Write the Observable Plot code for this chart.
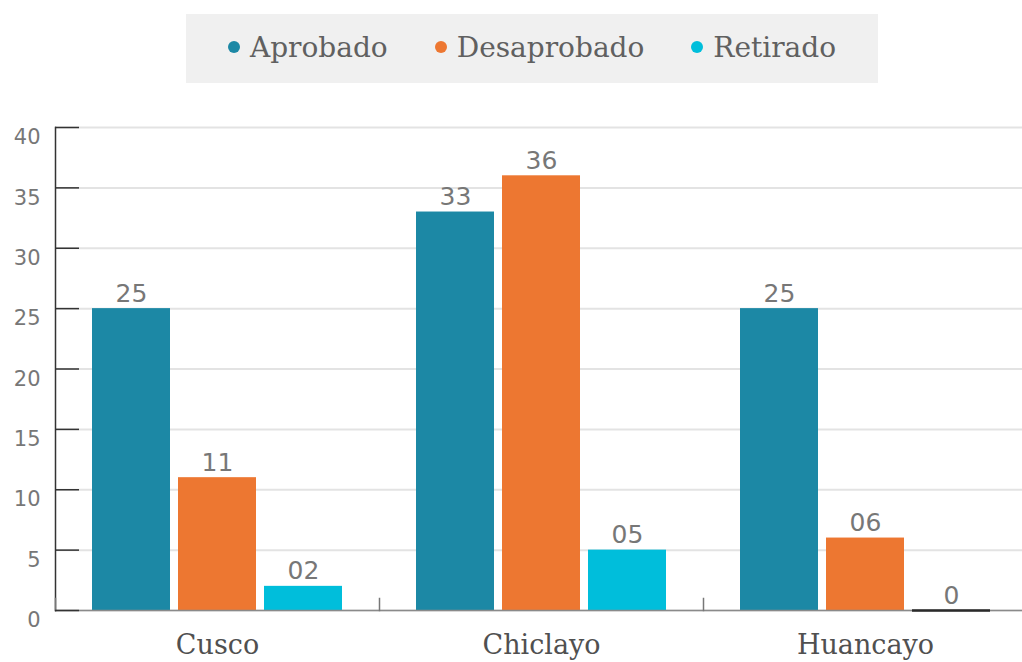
<!DOCTYPE html>
<html>
<head>
<meta charset="utf-8">
<script src="https://cdn.jsdelivr.net/npm/d3@7"></script>
<script src="https://cdn.jsdelivr.net/npm/@observablehq/plot@0.6"></script>
<style>
  html, body { margin: 0; background: #fff; overflow: hidden; }
  #legend {
    margin: 14px 0 0 186px; width: 692px; height: 69px; background: #f0f0f0;
    box-sizing: border-box; padding-bottom: 3px;
    display: flex; align-items: center; justify-content: center; gap: 47px;
    font-family: "DejaVu Serif", serif; font-size: 28px; color: #606060;
  }
  #legend .item { display: flex; align-items: center; gap: 10px; }
  #legend .dot { width: 12px; height: 12px; border-radius: 50%; display: inline-block; }
  #chart { margin-top: 12px; width: 1027px; }
  #chart svg { display: block; }
  #chart svg g[aria-label="y-axis tick label"],
  #chart svg g[aria-label="y-axis tick label"] text {
    font-size: 21px !important; fill: #777 !important; font-family: "DejaVu Sans", sans-serif !important;
  }
  #chart svg g[aria-label="fx-axis tick label"],
  #chart svg g[aria-label="fx-axis tick label"] text {
    font-size: 27px !important; fill: #505050 !important; font-family: "DejaVu Serif", serif !important;
  }
</style>
</head>
<body>
<div id="legend"></div>
<div id="chart"></div>
<script>
const categories = ["Cusco", "Chiclayo", "Huancayo"];
const series = ["Aprobado", "Desaprobado", "Retirado"];
const aprobado = [25, 33, 25];
const desaprobado = [11, 36, 6];
const retirado = [2, 5, 0];
const colors = ["#1c88a5", "#ed7731", "#00bedb"];
const yTicks = [0, 5, 10, 15, 20, 25, 30, 35, 40];

const valuesBySeries = [aprobado, desaprobado, retirado];
const data = [];
categories.forEach((c, i) => {
  series.forEach((s, j) => {
    data.push({ category: c, series: s, value: valuesBySeries[j][i] });
  });
});
const fmt = v => v === 0 ? "0" : String(v).padStart(2, "0");

// legend
const legend = document.getElementById("legend");
series.forEach((s, j) => {
  const item = document.createElement("span");
  item.className = "item";
  const dot = document.createElement("span");
  dot.className = "dot";
  dot.style.background = colors[j];
  const t = document.createElement("span");
  t.textContent = s;
  item.appendChild(dot);
  item.appendChild(t);
  legend.appendChild(item);
});

const plot = Plot.plot({
  width: 1027,
  height: 567,
  marginLeft: 55,
  marginRight: 0,
  marginTop: 32,
  marginBottom: 52,
  style: { fontFamily: "'DejaVu Sans', sans-serif", fontSize: "21px", background: "transparent", overflow: "visible" },
  fx: { domain: categories, padding: 0, label: null },
  x: { domain: series, paddingInner: 0.093, paddingOuter: 0.42, axis: null },
  y: { domain: [0, 40], label: null },
  color: { domain: series, range: colors },
  marks: [
    Plot.gridY(yTicks, { stroke: "#e3e3e3", strokeOpacity: 1, strokeWidth: 2 }),
    Plot.barY(data, { fx: "category", x: "series", y: "value", fill: "series" }),
    Plot.ruleY([0], { stroke: "#8a8a8a", strokeWidth: 1.5 }),
    Plot.tickY(data.filter(d => d.value === 0), { fx: "category", x: "series", y: "value", stroke: "#2a2a2a", strokeWidth: 2.5 }),
    Plot.frame({ anchor: "left", facetAnchor: "left", stroke: "#333", strokeWidth: 1.5 }),
    Plot.frame({ anchor: "left", insetTop: 471, stroke: "#777", strokeWidth: 1.5 }),
    Plot.axisY(yTicks, { tickSize: 0, tickPadding: 15, dy: 10, fill: "#777", fontSize: 21 }),
    Plot.axisY(yTicks, { tickSize: -24, tickFormat: () => "", stroke: "#333", strokeWidth: 1.5 }),
    Plot.axisFx({ anchor: "bottom", tickSize: 0, tickPadding: 24, fill: "#505050", label: null, fontSize: 27 }),
    Plot.text(data, { fx: "category", x: "series", y: "value", text: d => fmt(d.value),
                      dy: -15, fontSize: 25, fill: "#777", lineAnchor: "middle",
                      fontFamily: "'DejaVu Sans', sans-serif" })
  ]
});
document.getElementById("chart").appendChild(plot);
</script>
</body>
</html>
